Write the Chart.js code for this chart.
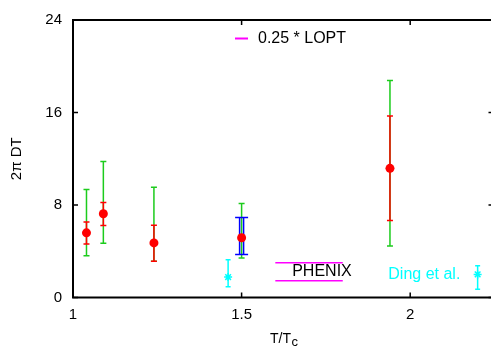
<!DOCTYPE html>
<html><head><meta charset="utf-8">
<script src="https://cdn.jsdelivr.net/npm/chart.js@4.4.0/dist/chart.umd.min.js"></script>
<style>
html,body{margin:0;padding:0;background:#fff;overflow:hidden;width:491px;height:347px}
#wrap{position:relative;width:500px;height:347px}
canvas{display:block}
</style></head><body>
<div id="wrap"><canvas id="c" width="500" height="347"></canvas></div>
<script>
// Heavy-quark diffusion coefficient 2πDT versus T/Tc
const temps = [1.04, 1.09, 1.24, 1.5, 1.94];
const dtValues = [5.59, 7.24, 4.72, 5.17, 11.17];
const statLow = [4.63, 6.22, 3.13, null, 6.67];
const statHigh = [6.52, 8.22, 6.24, null, 15.7];
const sysLow = [3.61, 4.69, 3.13, 3.41, 4.46];
const sysHigh = [9.33, 11.77, 9.53, 8.14, 18.76];
const contTemps = [1.5];
const contLow = [3.72];
const contHigh = [6.92];
const dingTemps = [1.46, 2.2];
const dingValues = [1.77, 2.0];
const dingLow = [0.92, 0.72];
const dingHigh = [3.27, 2.74];
const phenixTemps = [1.6, 1.8];
const phenixUpper = [3.0, 3.0];
const phenixLower = [1.45, 1.45];
const xTicks = [1, 1.5, 2];
const yTicks = [0, 8, 16, 24];

const FONT = '"Liberation Sans", Arial, Helvetica, sans-serif';
const RED = '#ff0000', GREEN = '#1ccc1c', BLUE = '#0000ff', CYAN = '#00ffff', MAGENTA = '#ff00ff';

function vbar(ctx, x, y1, y2, half, color, lw) {
  ctx.save();
  ctx.strokeStyle = color;
  ctx.lineWidth = lw;
  ctx.beginPath();
  ctx.moveTo(x, y1); ctx.lineTo(x, y2);
  ctx.moveTo(x - half, y1); ctx.lineTo(x + half, y1);
  ctx.moveTo(x - half, y2); ctx.lineTo(x + half, y2);
  ctx.stroke();
  ctx.restore();
}

const errorBars = {
  id: 'errorBars',
  beforeDatasetsDraw(chart) {
    const {ctx, scales: {x, y}} = chart;
    temps.forEach((t, i) => {
      vbar(ctx, x.getPixelForValue(t), y.getPixelForValue(sysHigh[i]), y.getPixelForValue(sysLow[i]), 3, GREEN, 1.5);
    });
    temps.forEach((t, i) => {
      if (statLow[i] == null) return;
      vbar(ctx, x.getPixelForValue(t), y.getPixelForValue(statHigh[i]), y.getPixelForValue(statLow[i]), 3, RED, 1.5);
    });
    contTemps.forEach((t, i) => {
      const px = x.getPixelForValue(t);
      const y1 = y.getPixelForValue(contHigh[i]), y2 = y.getPixelForValue(contLow[i]);
      ctx.save();
      ctx.strokeStyle = BLUE; ctx.lineWidth = 1.5;
      ctx.beginPath();
      ctx.moveTo(px - 2, y1); ctx.lineTo(px - 2, y2);
      ctx.moveTo(px + 2, y1); ctx.lineTo(px + 2, y2);
      ctx.moveTo(px - 6.5, y1); ctx.lineTo(px + 6.5, y1);
      ctx.moveTo(px - 6.5, y2); ctx.lineTo(px + 6.5, y2);
      ctx.stroke();
      ctx.restore();
    });
    dingTemps.forEach((t, i) => {
      vbar(ctx, x.getPixelForValue(t), y.getPixelForValue(dingHigh[i]), y.getPixelForValue(dingLow[i]), 2.5, CYAN, 1.5);
    });
  }
};

const frame = {
  id: 'frame',
  afterDraw(chart) {
    const {ctx, chartArea: a, scales: {x, y}} = chart;
    ctx.save();
    ctx.strokeStyle = '#000';
    ctx.lineWidth = 2;
    ctx.strokeRect(a.left, a.top, a.right - a.left, a.bottom - a.top);
    ctx.lineWidth = 1.5;
    ctx.beginPath();
    const tl = 5;
    xTicks.forEach(v => {
      const px = x.getPixelForValue(v);
      ctx.moveTo(px, a.bottom); ctx.lineTo(px, a.bottom - tl);
      ctx.moveTo(px, a.top); ctx.lineTo(px, a.top + tl);
    });
    yTicks.forEach(v => {
      const py = y.getPixelForValue(v);
      ctx.moveTo(a.left, py); ctx.lineTo(a.left + tl, py);
      ctx.moveTo(a.right, py); ctx.lineTo(a.right - 6, py);
    });
    ctx.stroke();
    ctx.restore();
  }
};

const annotations = {
  id: 'annotations',
  afterDraw(chart) {
    const {ctx, chartArea: a, scales: {x, y}} = chart;
    ctx.save();
    ctx.font = '16px ' + FONT;
    ctx.textBaseline = 'middle';
    ctx.textAlign = 'left';
    // legend entry
    const lopt = chart.data.datasets[4];
    ctx.strokeStyle = lopt.borderColor;
    ctx.lineWidth = 2;
    ctx.beginPath();
    ctx.moveTo(235, 38.5); ctx.lineTo(248, 38.5);
    ctx.stroke();
    ctx.fillStyle = '#000';
    ctx.fillText(lopt.label, 258, 39);
    // data labels
    ctx.fillStyle = '#000';
    ctx.fillText('PHENIX', x.getPixelForValue(1.65), y.getPixelForValue(2.2));
    ctx.fillStyle = CYAN;
    ctx.fillText('Ding et al.', x.getPixelForValue(1.935), y.getPixelForValue(2.0));
    // x-axis title with subscript
    ctx.fillStyle = '#000';
    ctx.textBaseline = 'alphabetic';
    const main = 'T/T', sub = 'c';
    ctx.font = '14px ' + FONT;
    const w1 = ctx.measureText(main).width;
    ctx.font = '13px ' + FONT;
    const w2 = ctx.measureText(sub).width;
    const cx = (a.left + a.right) / 2;
    const x0 = cx - (w1 + w2) / 2;
    ctx.font = '14px ' + FONT;
    ctx.fillText(main, x0, 342.5);
    ctx.font = '13px ' + FONT;
    ctx.fillText(sub, x0 + w1 + 0.5, 346);
    ctx.restore();
  }
};

new Chart(document.getElementById('c'), {
  type: 'scatter',
  data: {
    datasets: [
      {
        label: 'lattice',
        data: temps.map((t, i) => ({x: t, y: dtValues[i]})),
        pointRadius: 4.5,
        pointBackgroundColor: RED,
        pointBorderWidth: 0,
        showLine: false
      },
      {
        label: 'Ding et al.',
        data: dingTemps.map((t, i) => ({x: t, y: dingValues[i]})),
        pointStyle: 'star',
        pointRadius: 4,
        pointBorderColor: CYAN,
        pointBorderWidth: 1.5,
        showLine: false
      },
      {
        label: 'PHENIX upper',
        type: 'line',
        data: phenixTemps.map((t, i) => ({x: t, y: phenixUpper[i]})),
        borderColor: MAGENTA,
        borderWidth: 1.5,
        pointRadius: 0
      },
      {
        label: 'PHENIX lower',
        type: 'line',
        data: phenixTemps.map((t, i) => ({x: t, y: phenixLower[i]})),
        borderColor: MAGENTA,
        borderWidth: 1.5,
        pointRadius: 0
      },
      {
        label: '0.25 * LOPT',
        type: 'line',
        data: [],
        borderColor: MAGENTA,
        borderWidth: 2,
        pointRadius: 0
      }
    ]
  },
  options: {
    responsive: false,
    animation: false,
    events: [],
    layout: {padding: {top: 15, right: 5, left: 0, bottom: 0}},
    plugins: {legend: {display: false}, tooltip: {enabled: false}},
    scales: {
      x: {
        type: 'linear',
        min: 1, max: 2.25,
        afterBuildTicks: s => { s.ticks = xTicks.map(v => ({value: v})); },
        afterFit: s => { s.height = 49.5; },
        grid: {display: false, drawTicks: false},
        border: {display: false},
        ticks: {color: '#000', font: {family: FONT, size: 15}, padding: 8, maxRotation: 0,
                callback: v => String(v)}
      },
      y: {
        type: 'linear',
        min: 0, max: 24,
        afterBuildTicks: s => { s.ticks = yTicks.map(v => ({value: v})); },
        afterFit: s => { s.width = 73; },
        grid: {display: false, drawTicks: false},
        border: {display: false},
        title: {display: true, text: '2π DT', color: '#000', font: {family: FONT, size: 15}, padding: {top: 8, bottom: 0}},
        ticks: {color: '#000', font: {family: FONT, size: 15}, padding: 11,
                callback: v => String(v)}
      }
    }
  },
  plugins: [errorBars, frame, annotations]
});
</script>
</body></html>
